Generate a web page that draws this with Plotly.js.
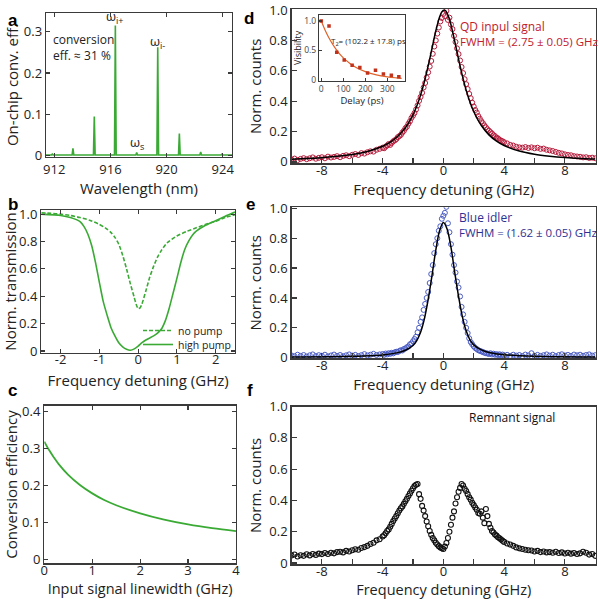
<!DOCTYPE html>
<html><head><meta charset="utf-8">
<script src="https://cdn.plot.ly/plotly-3.0.1.min.js"></script>
<style>html,body{margin:0;padding:0;background:#fff}#chart{width:600px;height:599px}</style>
</head><body><div id="chart"></div>
<script>
// ---------- Panel a: conversion spectrum ----------
const peakWavelength = [911.86, 913.33, 914.85, 916.35, 917.87, 919.37, 920.91, 922.43, 923.95];
const peakEfficiency = [0.004, 0.018, 0.095, 0.315, 0.008, 0.262, 0.054, 0.009, 0.004];
const spectrumBaseline = 0.002;
const wavelengthTicks = [912, 916, 920, 924];

// ---------- Panel b: transmission ----------
const noPumpX = [-2.5,-2.25,-2,-1.75,-1.5,-1.25,-1,-0.85,-0.7,-0.6,-0.5,-0.4,-0.3,-0.2,-0.1,-0.05,0,0.05,0.1,0.2,0.3,0.4,0.5,0.6,0.75,1,1.25,1.5,1.75,2,2.25,2.5];
const noPumpY = [1.01,1.005,1.0,0.99,0.975,0.955,0.925,0.9,0.865,0.83,0.78,0.70,0.60,0.49,0.39,0.34,0.31,0.315,0.345,0.44,0.54,0.62,0.685,0.735,0.79,0.84,0.873,0.9,0.925,0.948,0.975,0.995];
const highPumpX = [-2.5,-2,-1.75,-1.5,-1.4,-1.3,-1.2,-1.1,-1,-0.9,-0.8,-0.7,-0.6,-0.5,-0.4,-0.3,-0.2,-0.1,0,0.1,0.2,0.3,0.4,0.5,0.6,0.7,0.8,0.9,1,1.1,1.2,1.3,1.4,1.5,1.75,2,2.25,2.5];
const highPumpY = [1.0,0.99,0.975,0.945,0.91,0.855,0.77,0.645,0.5,0.36,0.26,0.17,0.11,0.06,0.03,0.012,0.005,0.015,0.035,0.06,0.08,0.095,0.11,0.13,0.16,0.22,0.31,0.42,0.53,0.645,0.74,0.8,0.845,0.875,0.92,0.952,0.985,1.015];
const transTicks = [-2, -1, 0, 1, 2];

// ---------- Panel c: conversion efficiency vs linewidth ----------
const linewidthGHz = [0,0.1,0.2,0.3,0.5,0.75,1,1.25,1.5,2,2.5,3,3.5,4];
const convEfficiency = [0.318,0.295,0.275,0.257,0.228,0.2,0.178,0.16,0.146,0.124,0.107,0.094,0.084,0.076];

// ---------- Panels d, e, f: spectra ----------
const detuning = [-10,-9.8,-9.6,-9.4,-9.2,-9,-8.8,-8.6,-8.4,-8.2,-8,-7.8,-7.6,-7.4,-7.2,-7,-6.8,-6.6,-6.4,-6.2,-6,-5.8,-5.6,-5.4,-5.2,-5,-4.8,-4.6,-4.4,-4.2,
 -4,-3.9,-3.8,-3.7,-3.6,-3.5,-3.4,-3.3,-3.2,-3.1,-3,-2.9,-2.8,-2.7,-2.6,-2.5,-2.4,-2.3,-2.2,-2.1,-2,-1.9,-1.8,-1.7,-1.6,-1.5,-1.4,-1.3,-1.2,-1.1,-1,-0.9,-0.8,-0.7,-0.6,-0.5,-0.4,-0.3,-0.2,-0.1,
 0,0.1,0.2,0.3,0.4,0.5,0.6,0.7,0.8,0.9,1,1.1,1.2,1.3,1.4,1.5,1.6,1.7,1.8,1.9,2,2.1,2.2,2.3,2.4,2.5,2.6,2.7,2.8,2.9,3,3.1,3.2,3.3,3.4,3.5,3.6,3.7,3.8,3.9,4,
 4.2,4.4,4.6,4.8,5,5.2,5.4,5.6,5.8,6,6.2,6.4,6.6,6.8,7,7.2,7.4,7.6,7.8,8,8.2,8.4,8.6,8.8,9,9.2,9.4,9.6,9.8,10];
const qdSignal = [0.016,0.022,0.012,0.020,0.025,0.018,0.024,0.030,0.021,0.027,0.031,0.024,0.035,0.029,0.033,0.038,0.031,0.040,0.044,0.038,0.047,0.052,0.046,0.058,0.055,0.064,0.070,0.068,0.080,0.086,
 0.094,0.090,0.101,0.108,0.118,0.112,0.125,0.136,0.142,0.150,0.163,0.170,0.178,0.194,0.205,0.222,0.232,0.252,0.268,0.290,0.305,0.322,0.345,0.372,0.402,0.428,0.455,0.490,0.520,0.556,0.590,0.628,0.665,0.712,0.760,0.800,0.845,0.885,0.925,0.948,
 0.975,0.960,0.995,0.935,0.950,0.905,0.875,0.830,0.790,0.748,0.710,0.668,0.625,0.585,0.545,0.512,0.480,0.448,0.420,0.390,0.365,0.342,0.325,0.302,0.285,0.268,0.255,0.240,0.228,0.215,0.206,0.196,0.188,0.176,0.170,0.160,0.155,0.146,0.140,0.136,0.130,
 0.122,0.112,0.108,0.100,0.096,0.094,0.098,0.092,0.096,0.090,0.094,0.086,0.088,0.080,0.076,0.072,0.066,0.060,0.056,0.050,0.046,0.044,0.038,0.036,0.034,0.030,0.031,0.026,0.028,0.024];
const qdFitX = [-10,-9,-8,-7,-6,-5,-4,-3.5,-3,-2.5,-2,-1.75,-1.5,-1.25,-1,-0.75,-0.5,-0.25,-0.1,0.05,0.15,0.25,0.4,0.5,0.75,1,1.25,1.5,1.75,2,2.25,2.5,3,3.5,4,5,6,7,8,9,10];
const qdFitY = [0.018,0.023,0.028,0.037,0.049,0.069,0.103,0.130,0.169,0.225,0.310,0.368,0.440,0.528,0.632,0.747,0.862,0.955,0.988,1.0,0.995,0.979,0.939,0.903,0.794,0.677,0.568,0.473,0.395,0.332,0.281,0.240,0.178,0.137,0.108,0.072,0.051,0.038,0.029,0.023,0.019];
const blueIdler = [0.015,0.010,0.020,0.012,0.018,0.008,0.016,0.022,0.011,0.017,0.013,0.020,0.009,0.015,0.021,0.012,0.018,0.010,0.016,0.022,0.014,0.019,0.011,0.017,0.024,0.015,0.020,0.026,0.018,0.022,
 0.025,0.019,0.028,0.022,0.030,0.026,0.033,0.029,0.036,0.040,0.038,0.045,0.050,0.048,0.058,0.062,0.070,0.075,0.090,0.095,0.110,0.125,0.140,0.170,0.200,0.240,0.270,0.320,0.360,0.400,0.440,0.500,0.560,0.620,0.700,0.760,0.800,0.850,0.880,0.930,
 0.950,0.970,1.010,0.900,0.840,0.760,0.690,0.620,0.570,0.510,0.470,0.410,0.340,0.290,0.240,0.200,0.165,0.130,0.105,0.090,0.076,0.065,0.058,0.050,0.046,0.042,0.038,0.033,0.030,0.028,0.025,0.030,0.022,0.027,0.020,0.024,0.018,0.023,0.016,0.021,0.015,
 0.019,0.012,0.020,0.014,0.018,0.011,0.021,0.015,0.030,0.013,0.019,0.012,0.017,0.022,0.014,0.020,0.011,0.018,0.023,0.015,0.019,0.012,0.021,0.016,0.020,0.013,0.018,0.022,0.014,0.017];
const blueFitX = [-10,-6,-4,-3,-2.5,-2,-1.75,-1.5,-1.25,-1,-0.75,-0.5,-0.25,0,0.25,0.5,0.75,1,1.25,1.5,1.75,2,2.5,3,4,6,10];
const blueFitY = [0.004,0.009,0.018,0.034,0.05,0.082,0.115,0.17,0.26,0.39,0.55,0.72,0.85,0.905,0.86,0.74,0.57,0.41,0.275,0.18,0.12,0.086,0.052,0.035,0.02,0.009,0.004];
const remnant = [0.048,0.055,0.042,0.050,0.046,0.056,0.049,0.058,0.052,0.060,0.057,0.064,0.058,0.066,0.062,0.070,0.072,0.068,0.078,0.074,0.082,0.088,0.085,0.096,0.102,0.110,0.122,0.130,0.145,0.152,
 0.170,0.178,0.190,0.205,0.215,0.232,0.250,0.268,0.285,0.300,0.318,0.335,0.350,0.362,0.378,0.395,0.410,0.428,0.445,0.462,0.478,0.492,0.500,0.505,0.440,0.410,0.365,0.335,0.300,0.265,0.235,0.205,0.180,0.160,0.145,0.130,0.118,0.108,0.100,0.094,
 0.090,0.105,0.128,0.160,0.200,0.245,0.290,0.330,0.380,0.420,0.455,0.480,0.505,0.495,0.475,0.460,0.440,0.420,0.405,0.385,0.370,0.355,0.340,0.320,0.315,0.330,0.290,0.255,0.345,0.300,0.250,0.225,0.205,0.195,0.182,0.175,0.165,0.158,0.150,0.142,0.135,
 0.125,0.118,0.110,0.100,0.094,0.090,0.085,0.082,0.080,0.074,0.078,0.070,0.074,0.068,0.070,0.066,0.072,0.064,0.068,0.061,0.066,0.060,0.064,0.058,0.062,0.072,0.066,0.054,0.058,0.046];
const detuneTicks = [-8, -4, 0, 4, 8];
const countTicks = [0, 0.2, 0.4, 0.6, 0.8, 1.0];

// ---------- Inset: visibility vs delay ----------
const visDelay = [0,35,70,104,140,175,210,246,282,318,352];
const visibility = [1.0,0.915,0.47,0.34,0.25,0.21,0.12,0.165,0.10,0.08,0.056];
const visFitDelay = [0,20,40,60,80,100,130,160,200,250,300,340,365];
const visFitY = [1.0,0.822,0.676,0.555,0.456,0.375,0.28,0.208,0.141,0.086,0.053,0.036,0.028];

// ---------- styling ----------
const FONT = 'Open Sans, sans-serif';
const TXT = '#222';
const AX = '#3a3a3a';
const GREEN = '#3aaa35';
const RED = '#b71c3c';
const BLUE = '#4a5cc4';

function fmt(v){ return String(v); }
function fmt1(v){ return v === 0 ? '0' : v.toFixed(1); }

// build spectrum trace from peak arrays
const specX = [peakWavelength[0] - 0.6], specY = [spectrumBaseline];
peakWavelength.forEach((c, i) => {
  specX.push(c - 0.06, c, c + 0.06);
  specY.push(spectrumBaseline, peakEfficiency[i], spectrumBaseline);
});
specX.push(peakWavelength[peakWavelength.length - 1] + 0.8); specY.push(spectrumBaseline);

function axis(extra) {
  return Object.assign({
    showline: true, linecolor: AX, linewidth: 1.3, mirror: 'ticks',
    ticks: 'inside', ticklen: 4, tickwidth: 1.2, tickcolor: AX,
    showgrid: false, zeroline: false, automargin: false, fixedrange: true,
    tickfont: { family: FONT, size: 13, color: TXT }
  }, extra);
}
function ttl(text, standoff, size) {
  return { text: text, standoff: standoff, font: { family: FONT, size: size || 15, color: TXT } };
}
const dx = (px) => px / 600;
const dy = (py) => 1 - py / 599;

const traces = [
  { x: specX, y: specY, xaxis: 'x', yaxis: 'y', mode: 'lines', line: { color: GREEN, width: 1.6 }, showlegend: false, name: 'spectrum' },
  { x: noPumpX, y: noPumpY, xaxis: 'x2', yaxis: 'y2', mode: 'lines', line: { color: GREEN, width: 1.6, dash: '4px,2px', shape: 'spline', smoothing: 0.6 }, name: 'no pump', legend: 'legend' },
  { x: highPumpX, y: highPumpY, xaxis: 'x2', yaxis: 'y2', mode: 'lines', line: { color: GREEN, width: 1.6, shape: 'spline', smoothing: 0.6 }, name: 'high pump', legend: 'legend2' },
  { x: linewidthGHz, y: convEfficiency, xaxis: 'x3', yaxis: 'y3', mode: 'lines', line: { color: GREEN, width: 1.8, shape: 'spline' }, showlegend: false, name: 'eff' },
  { x: detuning, y: qdSignal, xaxis: 'x4', yaxis: 'y4', mode: 'markers', marker: { symbol: 'circle-open', size: 5, color: RED, line: { width: 1, color: RED } }, showlegend: false, name: 'QD' },
  { x: qdFitX, y: qdFitY, xaxis: 'x4', yaxis: 'y4', mode: 'lines', line: { color: '#000', width: 1.5, shape: 'spline', smoothing: 0.8 }, showlegend: false, name: 'QD fit' },
  { x: detuning, y: blueIdler, xaxis: 'x5', yaxis: 'y5', mode: 'markers', marker: { symbol: 'circle-open', size: 5, color: BLUE, line: { width: 1, color: BLUE } }, showlegend: false, name: 'idler' },
  { x: blueFitX, y: blueFitY, xaxis: 'x5', yaxis: 'y5', mode: 'lines', line: { color: '#000', width: 1.5, shape: 'spline', smoothing: 0.8 }, showlegend: false, name: 'idler fit' },
  { x: detuning, y: remnant, xaxis: 'x6', yaxis: 'y6', mode: 'markers', marker: { symbol: 'circle-open', size: 5, color: '#111', line: { width: 1.1, color: '#111' } }, showlegend: false, name: 'remnant' },
  { x: visFitDelay, y: visFitY, xaxis: 'x7', yaxis: 'y7', mode: 'lines', line: { color: '#e0632a', width: 1.2, shape: 'spline' }, showlegend: false, name: 'vis fit' },
  { x: visDelay, y: visibility, xaxis: 'x7', yaxis: 'y7', mode: 'markers', marker: { symbol: 'square', size: 3.5, color: '#c0321c' }, showlegend: false, name: 'vis' }
];

const detuneX = (dom, anchor, tsize) => axis({
  domain: dom, anchor: anchor, range: [-10, 10.05], mirror: true,
  tickmode: 'array', tickvals: detuneTicks, ticktext: detuneTicks.map(fmt), ticklen: 5, ticklabelstandoff: -5,
  minor: { tickvals: [-10, -6, -2, 2, 6, 10], ticks: 'inside', ticklen: 5, tickcolor: AX, tickwidth: 1.2 },
  title: ttl('Frequency detuning (GHz)', 2, tsize)
});
const countY = (dom, anchor, range) => axis({
  domain: dom, anchor: anchor, range: range, mirror: true,
  tickmode: 'array', tickvals: countTicks, ticktext: countTicks.map(fmt1), ticklen: 5,
  title: ttl('Norm. counts', 4)
});
const legendStyle = (py) => ({ x: dx(138), y: dy(py), xanchor: 'left', yanchor: 'middle', bgcolor: 'rgba(0,0,0,0)',
  font: { family: FONT, size: 10.5, color: TXT }, itemwidth: 30, tracegroupgap: 0 });

const layout = {
  width: 600, height: 599,
  margin: { l: 0, r: 0, t: 0, b: 0 },
  paper_bgcolor: '#fff', plot_bgcolor: '#fff',
  font: { family: FONT, color: TXT },
  showlegend: true,
  legend: legendStyle(330.5),
  legend2: legendStyle(344.5),
  // a
  xaxis: axis({ domain: [dx(46), dx(232)], anchor: 'y', range: [911.41, 924.66], tickmode: 'array', tickvals: wavelengthTicks, ticktext: wavelengthTicks.map(fmt), title: ttl('Wavelength (nm)', 1) }),
  yaxis: axis({ domain: [dy(157), dy(13)], anchor: 'x', range: [-0.003, 0.345], tickmode: 'array', tickvals: [0, 0.1, 0.2, 0.3], ticktext: ['0', '0.1', '0.2', '0.3'], title: ttl('On-chip conv. eff.', 1) }),
  // b
  xaxis2: axis({ domain: [dx(41.3), dx(235)], anchor: 'y2', range: [-2.5, 2.5], tickmode: 'array', tickvals: transTicks, ticktext: transTicks.map(fmt), ticklabelstandoff: -6, title: ttl('Frequency detuning (GHz)', 8) }),
  yaxis2: axis({ domain: [dy(353), dy(210)], anchor: 'x2', range: [-0.015, 1.03], tickmode: 'array', tickvals: countTicks, ticktext: countTicks.map(fmt1), title: ttl('Norm. transmission', 1) }),
  // c
  xaxis3: axis({ domain: [dx(44.3), dx(236)], anchor: 'y3', range: [0, 4.0], tickmode: 'array', tickvals: [0, 1, 2, 3, 4], ticktext: ['0', '1', '2', '3', '4'], ticklabelstandoff: -5, title: ttl('Input signal linewidth (GHz)', 3, 14.5) }),
  yaxis3: axis({ domain: [dy(563.3), dy(405.7)], anchor: 'x3', range: [-0.011, 0.415], tickmode: 'array', tickvals: [0, 0.1, 0.2, 0.3, 0.4], ticktext: ['0', '0.1', '0.2', '0.3', '0.4'], title: ttl('Conversion efficiency', 1) }),
  // d
  xaxis4: detuneX([dx(291.5), dx(596)], 'y4'),
  yaxis4: countY([dy(163.3), dy(9.3)], 'x4', [-0.009, 1.005]),
  // e
  xaxis5: detuneX([dx(291.5), dx(596)], 'y5'),
  yaxis5: countY([dy(358.3), dy(207.3)], 'x5', [-0.004, 1.007]),
  // f
  xaxis6: detuneX([dx(291.5), dx(596)], 'y6', 14.5),
  yaxis6: countY([dy(564.3), dy(406.5)], 'x6', [-0.008, 1.0]),
  // inset
  xaxis7: axis({ domain: [dx(319), dx(405)], anchor: 'y7', range: [-10.5, 380], mirror: true, ticklen: 3, linewidth: 1.1,
                 tickmode: 'array', tickvals: [0, 100, 200, 300], ticktext: ['0', '100', '200', '300'],
                 tickfont: { family: FONT, size: 8.5, color: '#444' }, title: ttl('Delay (ps)', 0, 9.5) }),
  yaxis7: axis({ domain: [dy(80.7), dy(15)], anchor: 'x7', range: [-0.012, 1.1], mirror: true, ticklen: 3, linewidth: 1.1,
                 tickmode: 'array', tickvals: [0, 0.5, 1.0], ticktext: ['0', '0.5', '1.0'],
                 tickfont: { family: FONT, size: 8.5, color: '#444' }, title: ttl('Visibility', 1, 9) }),
  annotations: [
    { text: '<b>a</b>', x: dx(6), y: dy(8.5), xref: 'paper', yref: 'paper', showarrow: false, font: { family: 'Liberation Sans, Arial, sans-serif', size: 17, color: '#000' } },
    { text: '<b>b</b>', x: dx(6), y: dy(204.7), xref: 'paper', yref: 'paper', showarrow: false, font: { family: 'Liberation Sans, Arial, sans-serif', size: 17, color: '#000' } },
    { text: '<b>c</b>', x: dx(6), y: dy(401.8), xref: 'paper', yref: 'paper', showarrow: false, font: { family: 'Liberation Sans, Arial, sans-serif', size: 17, color: '#000' } },
    { text: '<b>d</b>', x: dx(249), y: dy(7), xref: 'paper', yref: 'paper', showarrow: false, font: { family: 'Liberation Sans, Arial, sans-serif', size: 17, color: '#000' } },
    { text: '<b>e</b>', x: dx(250.7), y: dy(204.7), xref: 'paper', yref: 'paper', showarrow: false, font: { family: 'Liberation Sans, Arial, sans-serif', size: 17, color: '#000' } },
    { text: '<b>f</b>', x: dx(249.5), y: dy(401.8), xref: 'paper', yref: 'paper', showarrow: false, font: { family: 'Liberation Sans, Arial, sans-serif', size: 17, color: '#000' } },
    { text: 'conversion<br>eff. ≈ 31 %', x: dx(51), y: dy(29), xref: 'paper', yref: 'paper', xanchor: 'left', yanchor: 'top', align: 'left', showarrow: false, font: { family: FONT, size: 12, color: TXT } },
    { text: 'ω<sub>i+</sub>', x: peakWavelength[3], y: 0.335, xref: 'x', yref: 'y', yanchor: 'middle', showarrow: false, font: { family: FONT, size: 13, color: TXT } },
    { text: 'ω<sub>i-</sub>', x: peakWavelength[5], y: 0.275, xref: 'x', yref: 'y', yanchor: 'middle', showarrow: false, font: { family: FONT, size: 13, color: TXT } },
    { text: 'ω<sub>s</sub>', x: peakWavelength[4], y: 0.031, xref: 'x', yref: 'y', yanchor: 'middle', showarrow: false, font: { family: FONT, size: 13, color: TXT } },
    { text: 'QD inpul signal', x: dx(458), y: dy(16), xref: 'paper', yref: 'paper', xanchor: 'left', showarrow: false, font: { family: FONT, size: 12, color: '#c0202e' } },
    { text: 'FWHM = (2.75 ± 0.05) GHz', x: dx(458), y: dy(31.7), xref: 'paper', yref: 'paper', xanchor: 'left', showarrow: false, font: { family: FONT, size: 11.5, color: '#c0202e' } },
    { text: 'Blue idler', x: dx(456.7), y: dy(217.7), xref: 'paper', yref: 'paper', xanchor: 'left', showarrow: false, font: { family: FONT, size: 12, color: '#2e3192' } },
    { text: 'FWHM = (1.62 ± 0.05) GHz', x: dx(456.7), y: dy(232.3), xref: 'paper', yref: 'paper', xanchor: 'left', showarrow: false, font: { family: FONT, size: 11.5, color: '#2e3192' } },
    { text: 'Remnant signal', x: dx(466.7), y: dy(427.7), xref: 'paper', yref: 'paper', xanchor: 'left', showarrow: false, font: { family: FONT, size: 12, color: '#111' } },
    { text: 'T<sub>2</sub>= (102.2 ± 17.8) ps', x: dx(329), y: dy(33.3), xref: 'paper', yref: 'paper', xanchor: 'left', showarrow: false, font: { family: FONT, size: 8, color: '#222' } }
  ]
};

Plotly.newPlot('chart', traces, layout, { staticPlot: true, displayModeBar: false });
</script></body></html>
